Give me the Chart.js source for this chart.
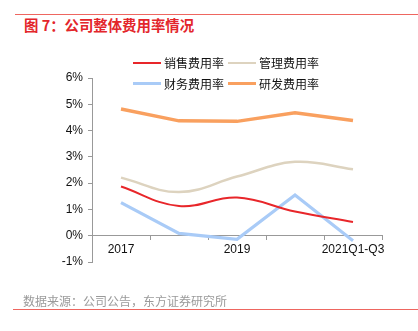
<!DOCTYPE html>
<html>
<head>
<meta charset="utf-8">
<script src="https://cdn.jsdelivr.net/npm/chart.js@4/dist/chart.umd.min.js"></script>
<style>
  html, body { margin: 0; padding: 0; background: #fff; }
  #wrap { position: relative; width: 418px; height: 331px; overflow: hidden; }
  #c { position: absolute; left: 0; top: 0; }
  .rule { position: absolute; height: 1px; background: #ee6660; }
  #title { position: absolute; left: 24px; top: 15px; height: 20px; line-height: 20px;
    font-family: "Noto Sans CJK SC", sans-serif; font-weight: bold; font-size: 14.4px; color: #e3262b; white-space: nowrap; }
  #source { position: absolute; left: 23px; top: 292px; height: 18px; line-height: 18px;
    font-family: "Noto Sans CJK SC", sans-serif; font-size: 12px; color: #9a9a9a; white-space: nowrap; }
  #legend { position: absolute; left: 133px; top: 52px; display: grid;
    grid-template-columns: 95px 95px; grid-auto-rows: 21px;
    font-family: "Noto Sans CJK SC", sans-serif; font-size: 12px; color: #111; }
  .li { display: flex; align-items: center; white-space: nowrap; }
  .sw { display: inline-block; width: 28px; margin-right: 3px; }
</style>
</head>
<body>
<div id="wrap">
  <div class="rule" style="left:15px; top:14px; width:403px;"></div>
  <div id="title">图 7：公司整体费用率情况</div>
  <canvas id="c" width="418" height="331"></canvas>
  <div id="legend"></div>
  <div id="source">数据来源：公司公告，东方证券研究所</div>
  <div class="rule" style="left:13px; top:309px; width:405px;"></div>
</div>
<script>
const categories = ["2017", "2018", "2019", "2020", "2021Q1-Q3"];
const seriesNames = ["销售费用率", "管理费用率", "财务费用率", "研发费用率"];
const salesRate = [1.87, 1.13, 1.45, 0.92, 0.52];
const adminRate = [2.21, 1.66, 2.25, 2.81, 2.53];
const financeRate = [1.26, 0.09, -0.14, 1.55, -0.19];
const rdRate = [4.82, 4.37, 4.35, 4.68, 4.38];
const yTicks = [-1, 0, 1, 2, 3, 4, 5, 6];

const colors = ["#e8262a", "#ddd3bf", "#a9cbf7", "#f9a05f"];
const widths = [2, 2.5, 3.2, 3.5];
const tensions = [0.4, 0.4, 0, 0];
const values = [salesRate, adminRate, financeRate, rdRate];

Chart.defaults.font.family = "'Liberation Sans', Arial, sans-serif";
Chart.defaults.font.size = 12;
Chart.defaults.color = "#111";

const chart = new Chart(document.getElementById("c"), {
  type: "line",
  data: {
    labels: categories,
    datasets: seriesNames.map((n, i) => ({
      label: n,
      data: values[i],
      borderColor: colors[i],
      backgroundColor: colors[i],
      borderWidth: widths[i],
      tension: tensions[i],
      pointRadius: 0,
      fill: false
    }))
  },
  options: {
    responsive: false,
    animation: false,
    layout: { padding: { top: 78, right: 36, bottom: 69, left: 0 } },
    plugins: { legend: { display: false }, tooltip: { enabled: false } },
    scales: {
      x: {
        position: { y: 0 },
        offset: true,
        grid: { offset: true, drawOnChartArea: false, tickLength: 4, color: "#999" },
        border: { color: "#999" },
        ticks: {
          autoSkip: false, maxRotation: 0, padding: 3,
          callback: (v, i) => (i % 2 === 0 ? categories[i] : "")
        }
      },
      y: {
        min: yTicks[0], max: yTicks[yTicks.length - 1],
        afterFit: s => { s.width = 92; },
        afterBuildTicks: s => { s.ticks = yTicks.map(v => ({ value: v })); },
        grid: { drawOnChartArea: false, tickLength: 4, color: "#999" },
        border: { color: "#999" },
        ticks: { padding: 5, callback: v => v + "%" }
      }
    }
  }
});

const legend = document.getElementById("legend");
chart.data.datasets.forEach(ds => {
  const item = document.createElement("div");
  item.className = "li";
  const sw = document.createElement("span");
  sw.className = "sw";
  sw.style.borderTop = ds.borderWidth + "px solid " + ds.borderColor;
  const t = document.createElement("span");
  t.textContent = ds.label;
  item.appendChild(sw);
  item.appendChild(t);
  legend.appendChild(item);
});
</script>
</body>
</html>
